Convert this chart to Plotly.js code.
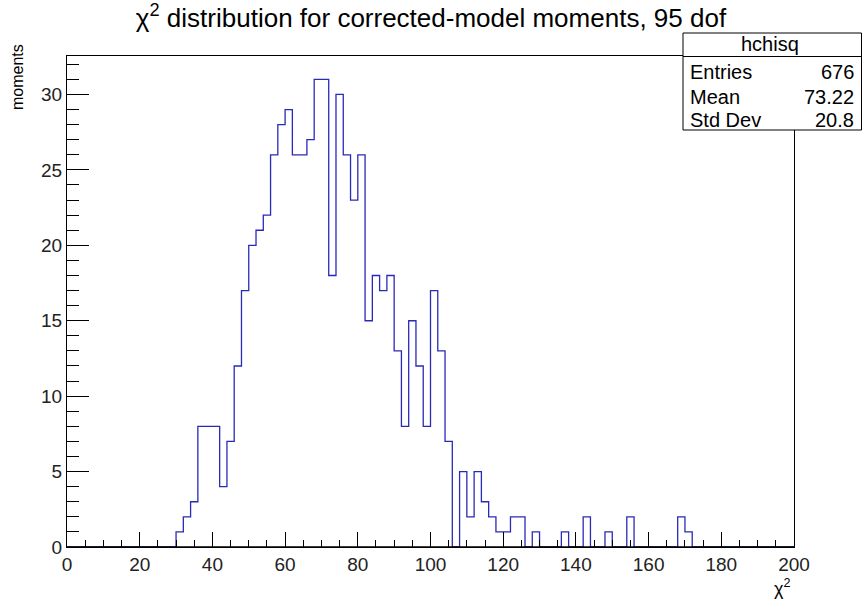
<!DOCTYPE html>
<html>
<head>
<meta charset="utf-8">
<script src="https://cdn.plot.ly/plotly-3.0.1.min.js"></script>
<style>html,body{margin:0;padding:0;background:#fff;}#chart{width:862px;height:601px;}</style>
</head>
<body>
<div id="chart"></div>
<script>
// Histogram definition (ROOT-style): 100 bins from 0 to 200
const xMin = 0;
const xMax = 200;
const binWidth = 2;
// Counts per bin
const counts = [
  0,0,0,0,0, 0,0,0,0,0, 0,0,0,0,0,
  1,2,3,8,8, 8,4,7,12,17,
  20,21,22,26,28, 29,26,26,27,31,
  31,18,30,26,23, 26,15,18,17,18,
  13,8,15,12,8, 17,13,7,0,5,
  2,5,3,2,1, 1,2,2,0,1,
  0,0,0,1,0, 0,2,0,0,1,
  0,0,2,0,0, 0,0,0,0,2,
  1,0,0,0,0, 0,0,0,0,0,
  0,0,0,0,0
];
const statName = "hchisq";
const statLabels = ["Entries", "Mean", "Std Dev"];
const statValues = ["676", "73.22", "20.8"];
const yTickVals = [0, 5, 10, 15, 20, 25, 30];
const xTickVals = [0, 20, 40, 60, 80, 100, 120, 140, 160, 180, 200];

// step outline from bin edges
const edges = counts.map((c, i) => xMin + i * binWidth);
const stepX = edges.concat([xMax]);
const stepY = counts.concat([counts[counts.length - 1]]);
const yMax = 1.05 * Math.max(...counts);

const FONT = "Liberation Sans, Arial, Helvetica, sans-serif";
const W = 862, H = 601;
const L = 67, R = 794, T = 56, B = 547;
const px = x => (x - L) / (R - L);
const py = y => (B - y) / (B - T);

const shapes = [
  // x axis line redrawn over the outline so empty bins do not tint it
  {type: 'line', xref: 'paper', yref: 'paper', x0: 0, x1: 1, y0: 0, y1: 0,
   line: {color: '#000', width: 1.6}, layer: 'above'},
  {type: 'rect', xref: 'paper', yref: 'paper', x0: px(683), x1: px(861.5), y0: py(130), y1: py(33),
   line: {color: '#000', width: 1}, fillcolor: '#fff', layer: 'above'},
  {type: 'line', xref: 'paper', yref: 'paper', x0: px(683), x1: px(861.5), y0: py(56.5), y1: py(56.5),
   line: {color: '#000', width: 1}, layer: 'above'}
];
const rowsY = [72, 97, 120];
const annotations = [
  {text: statName, xref: 'paper', yref: 'paper', x: px(770), y: py(44), xanchor: 'center', yanchor: 'middle',
   showarrow: false, font: {family: FONT, size: 20, color: '#000'}},
  {text: 'moments', xref: 'paper', yref: 'paper', x: px(17), y: py(42), xanchor: 'center', yanchor: 'top',
   textangle: -90, showarrow: false, font: {family: FONT, size: 16, color: '#000'}},
  {text: 'χ<sup>2</sup>', xref: 'paper', yref: 'paper', x: px(792), y: py(588), xanchor: 'right', yanchor: 'middle',
   showarrow: false, font: {family: FONT, size: 18, color: '#000'}}
];
statLabels.forEach((lab, i) => {
  annotations.push({text: lab, xref: 'paper', yref: 'paper', x: px(688), y: py(rowsY[i]), xanchor: 'left', yanchor: 'middle',
    showarrow: false, font: {family: FONT, size: 20, color: '#000'}});
  annotations.push({text: statValues[i], xref: 'paper', yref: 'paper', x: px(856), y: py(rowsY[i]), xanchor: 'right', yanchor: 'middle',
    showarrow: false, font: {family: FONT, size: 20, color: '#000'}});
});

const trace = {
  x: stepX, y: stepY, type: 'scatter', mode: 'lines',
  line: {shape: 'hv', color: '#2a2ab8', width: 1.3},
  hoverinfo: 'skip', cliponaxis: true
};

const layout = {
  width: W, height: H,
  margin: {l: L, r: W - R, t: T, b: H - B, pad: 0},
  paper_bgcolor: '#fff', plot_bgcolor: '#fff',
  showlegend: false,
  font: {family: FONT, color: '#000'},
  title: {text: 'χ<sup>2</sup> distribution for corrected-model moments, 95 dof',
          x: 0.5, xref: 'container', xanchor: 'center', y: 1 - 18 / H, yref: 'container', yanchor: 'middle',
          font: {family: FONT, size: 26, color: '#000'}},
  xaxis: {range: [xMin, xMax], tickmode: 'array', tickvals: xTickVals, ticktext: xTickVals.map(String),
          ticks: 'inside', ticklen: 15, tickwidth: 1, tickcolor: '#000',
          minor: {dtick: 5, tick0: 0, ticks: 'inside', ticklen: 7, tickwidth: 1, tickcolor: '#000', showgrid: false},
          showline: true, linecolor: '#000', linewidth: 1, mirror: true,
          showgrid: false, zeroline: false, tickfont: {family: FONT, size: 19, color: '#222'}},
  yaxis: {range: [0, yMax], tickmode: 'array', tickvals: yTickVals, ticktext: yTickVals.map(String),
          ticks: 'inside', ticklen: 22, tickwidth: 1, tickcolor: '#000',
          minor: {dtick: 1, tick0: 0, ticks: 'inside', ticklen: 12, tickwidth: 1, tickcolor: '#000', showgrid: false},
          showline: true, linecolor: '#000', linewidth: 1, mirror: true,
          showgrid: false, zeroline: false, tickfont: {family: FONT, size: 19, color: '#222'}},
  shapes: shapes,
  annotations: annotations
};

Plotly.newPlot('chart', [trace], layout, {staticPlot: true, displayModeBar: false});
</script>
</body>
</html>
